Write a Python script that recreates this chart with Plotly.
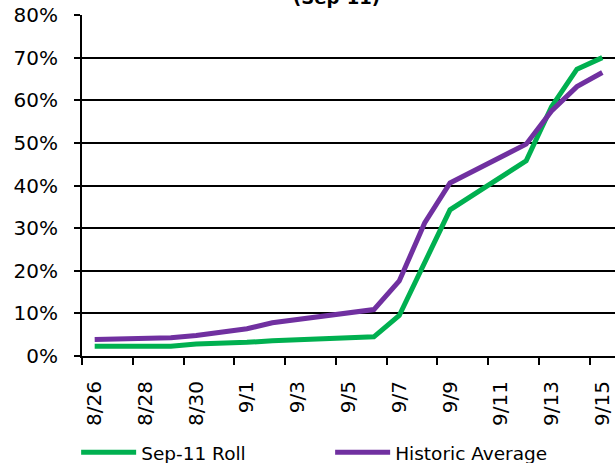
import plotly.graph_objects as go

dates = ["8/26", "8/27", "8/28", "8/29", "8/30", "8/31", "9/1", "9/2", "9/3", "9/4", "9/5",
         "9/6", "9/7", "9/8", "9/9", "9/10", "9/11", "9/12", "9/13", "9/14", "9/15"]
roll = [0.023, None, None, 0.023, 0.028, 0.029, 0.032, 0.036, None, None, None,
        0.045, 0.095, 0.22, 0.343, None, None, 0.458, 0.585, 0.673, 0.700]
hist = [0.039, None, None, 0.043, 0.048, 0.056, 0.064, 0.078, None, None, None,
        0.109, 0.176, 0.312, 0.406, None, None, 0.497, 0.575, 0.632, 0.665]
yticks = [0, 0.1, 0.2, 0.3, 0.4, 0.5, 0.6, 0.7, 0.8]
ytext = ["0%", "10%", "20%", "30%", "40%", "50%", "60%", "70%", "80%"]

FONT = "DejaVu Sans"

fig = go.Figure()
fig.add_trace(go.Scatter(x=dates, y=roll, name="Sep-11 Roll", mode="lines",
                         connectgaps=True, line=dict(color="#00B050", width=5)))
fig.add_trace(go.Scatter(x=dates, y=hist, name="Historic Average", mode="lines",
                         connectgaps=True, line=dict(color="#7030A0", width=5)))

fig.update_layout(
    width=615, height=463,
    margin=dict(l=82, r=0, t=15, b=107, autoexpand=False),
    paper_bgcolor="white", plot_bgcolor="white",
    font=dict(family=FONT, color="#000000", size=20),
    showlegend=True,
    legend=dict(orientation="h", x=-0.011, xanchor="left", y=-0.284, yanchor="middle",
                font=dict(family=FONT, size=18.5, color="#000000"),
                entrywidth=184, entrywidthmode="pixels", itemwidth=55,
                bgcolor="rgba(0,0,0,0)", tracegroupgap=0),
    xaxis=dict(type="category", categoryorder="array", categoryarray=dates,
               range=[-0.5, 20.5], tickmode="linear", tick0=0, dtick=2,
               tickson="boundaries", ticks="outside", ticklen=7, tickwidth=2,
               tickcolor="#000000", tickangle=-90, showgrid=False,
               showline=True, linecolor="#000000", linewidth=2,
               tickfont=dict(family=FONT, size=20, color="#000000"),
               ticklabelstandoff=15, automargin=False),
    yaxis=dict(range=[0, 0.8], tickvals=yticks, ticktext=ytext,
               ticks="outside", ticklen=6, tickwidth=2, tickcolor="#000000",
               showgrid=True, gridcolor="#000000", gridwidth=2,
               showline=True, linecolor="#000000", linewidth=2,
               zeroline=False,
               tickfont=dict(family=FONT, size=20, color="#000000"),
               ticklabelstandoff=12, automargin=False),
    annotations=[dict(text="<b>(Sep-11)</b>", xref="paper", yref="paper",
                      x=0.477, y=1.0 + 5.5 / 341, xanchor="center", yanchor="bottom",
                      showarrow=False, font=dict(family=FONT, size=18, color="#000000"))],
)

fig.write_html("out.html", config={"displayModeBar": False},
               post_script="document.body.style.margin='0';document.body.style.overflow='hidden';")
